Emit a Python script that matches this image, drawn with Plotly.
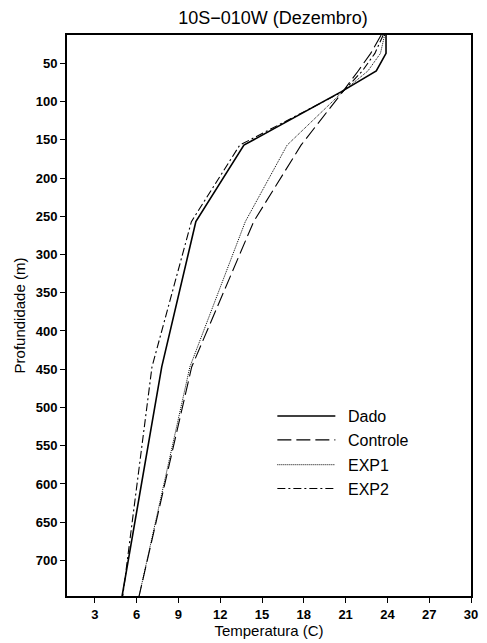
import plotly.graph_objects as go

depth = [13, 37, 60, 87, 157, 257, 447, 747]
dado = [23.9, 23.9, 23.2, 20.7, 13.7, 10.25, 7.8, 4.95]
controle = [23.55, 22.8, 21.9, 20.8, 17.8, 14.4, 9.95, 6.17]
exp1 = [23.8, 23.5, 22.6, 20.8, 16.8, 13.8, 9.82, 6.17]
exp2 = [23.7, 23.1, 22.2, 20.8, 13.4, 9.93, 7.1, 5.0]

series_names = ["Dado", "Controle", "EXP1", "EXP2"]
x_ticks = [3, 6, 9, 12, 15, 18, 21, 24, 27, 30]
y_ticks = [50, 100, 150, 200, 250, 300, 350, 400, 450, 500, 550, 600, 650, 700]

styles = [("solid", 1.6), ("14px,5px", 1.1), ("1px,1px", 1.0), ("8px,3px,2px,3px", 1.1)]
values = [dado, controle, exp1, exp2]

fig = go.Figure()
for name, vals, (dash, w) in zip(series_names, values, styles):
    fig.add_trace(go.Scatter(x=vals, y=depth, mode="lines", name=name, showlegend=False,
                             line=dict(color="black", dash=dash, width=w)))

# manual legend (plot area: 67..478 px horizontally, 35..599 px vertically)
L, R, T, B = 67, 478, 35, 599
def px(x):
    return (x - L) / (R - L)
def py(y):
    return (B - y) / (B - T)

leg_y = [418, 442, 467, 491]
for name, (dash, w), yy in zip(series_names, styles, leg_y):
    fig.add_shape(type="line", xref="paper", yref="paper",
                  x0=px(281), x1=px(340), y0=py(yy), y1=py(yy),
                  line=dict(color="black", dash=dash, width=w))
    fig.add_annotation(xref="paper", yref="paper", x=px(351), y=py(yy + 1),
                       text=name, showarrow=False, xanchor="left", yanchor="middle",
                       font=dict(family="Liberation Sans, Arial, sans-serif", size=16, color="black"))

font_tick = "Liberation Sans, Arial, sans-serif"
font_text = "Liberation Sans, Arial, sans-serif"
fig.update_layout(
    width=487, height=643,
    margin=dict(l=67, r=9, t=35, b=44),
    paper_bgcolor="white", plot_bgcolor="white",
    title=dict(text="10S\u2212010W (Dezembro)", x=0.5605, xanchor="center",
               y=0.973, yanchor="middle",
               font=dict(family=font_text, size=18, color="black")),
    showlegend=False,
    xaxis=dict(range=[1, 30], tickvals=x_ticks, ticktext=[str(v) for v in x_ticks],
               showgrid=False, zeroline=False, showline=True, linecolor="black", linewidth=2,
               mirror=True, ticks="outside", ticklen=5, tickcolor="black", tickwidth=1,
               tickfont=dict(family=font_tick, size=13, color="black", weight="bold"),
               title=dict(text="Temperatura (C)", standoff=2,
                          font=dict(family=font_text, size=15, color="black"))),
    yaxis=dict(range=[746.5, 13], tickvals=y_ticks, ticktext=[str(v) for v in y_ticks],
               showgrid=False, zeroline=False, showline=True, linecolor="black", linewidth=2,
               mirror=True, ticks="outside", ticklen=5, tickcolor="black", tickwidth=1,
               tickfont=dict(family=font_tick, size=13, color="black", weight="bold"),
               title=dict(text="Profundidade (m)", standoff=6,
                          font=dict(family=font_text, size=15, color="black"))),
)

fig.write_html("out.html")
